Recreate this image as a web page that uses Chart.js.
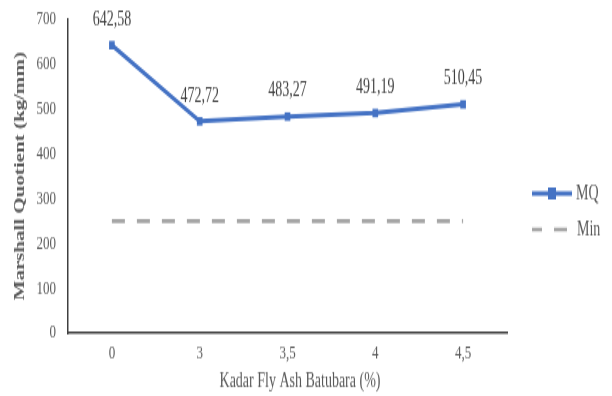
<!DOCTYPE html>
<html>
<head>
<meta charset="utf-8">
<script src="https://cdn.jsdelivr.net/npm/chart.js@4"></script>
<style>
  html, body { margin: 0; padding: 0; background: #fff; }
  #page { width: 612px; height: 396px; position: relative; }
  /* the reference picture is stretched vertically, so draw at 2/3 height and stretch */
  #wrap { position: absolute; left: 0; top: 0; width: 612px; height: 264px; transform: scaleY(1.5); transform-origin: 0 0; }
</style>
</head>
<body>
<div id="page"><div id="wrap"><canvas id="mqChart" width="612" height="264"></canvas></div></div>
<script>
const kadar = ["0", "3", "3,5", "4", "4,5"];
const mqValues = [642.58, 472.72, 483.27, 491.19, 510.45];
const minValues = [250, 250, 250, 250, 250];
const yTicks = [0, 100, 200, 300, 400, 500, 600, 700];

const serif = "'Liberation Serif', 'Times New Roman', serif";
const textGray = "#595959";

// value labels above the MQ points, comma decimals
const valueLabels = {
  id: "valueLabels",
  afterDatasetsDraw(chart) {
    const ctx = chart.ctx;
    const meta = chart.getDatasetMeta(0);
    ctx.save();
    ctx.font = "14px " + serif;
    ctx.fillStyle = "#404040";
    ctx.textAlign = "center";
    ctx.textBaseline = "middle";
    meta.data.forEach((pt, i) => {
      ctx.fillText(mqValues[i].toFixed(2).replace(".", ","), pt.x, pt.y - 17);
    });
    ctx.restore();
  }
};

// x axis title sits a little right of the plot centre in the original
const xTitle = {
  id: "xTitle",
  afterDraw(chart) {
    const ctx = chart.ctx;
    ctx.save();
    ctx.font = "14px " + serif;
    ctx.fillStyle = textGray;
    ctx.textAlign = "center";
    ctx.textBaseline = "middle";
    ctx.fillText("Kadar Fly Ash Batubara (%)", 300, 254);
    ctx.restore();
  }
};

// legend on the right, drawn by hand so the MQ line carries its marker
const sideLegend = {
  id: "sideLegend",
  afterDraw(chart) {
    const ctx = chart.ctx;
    const x0 = 532, x1 = 572;
    const yMQ = 129, yMin = 153;
    ctx.save();
    ctx.lineWidth = 3;
    ctx.strokeStyle = "#4472C4";
    ctx.beginPath(); ctx.moveTo(x0, yMQ); ctx.lineTo(x1, yMQ); ctx.stroke();
    ctx.fillStyle = "#4472C4";
    ctx.fillRect((x0 + x1) / 2 - 4, yMQ - 4, 8, 8);
    ctx.strokeStyle = "#A5A5A5";
    ctx.lineWidth = 2.7;
    ctx.setLineDash([13, 12]);
    ctx.lineDashOffset = 3;
    ctx.beginPath(); ctx.moveTo(x0, yMin); ctx.lineTo(x1 - 2, yMin); ctx.stroke();
    ctx.setLineDash([]);
    ctx.font = "14px " + serif;
    ctx.fillStyle = textGray;
    ctx.textBaseline = "middle";
    ctx.fillText("MQ", x1 + 4, yMQ);
    ctx.fillText("Min", x1 + 5, yMin);
    ctx.restore();
  }
};

new Chart(document.getElementById("mqChart").getContext("2d"), {
  type: "line",
  data: {
    labels: kadar,
    datasets: [
      {
        label: "MQ",
        data: mqValues,
        borderColor: "#4472C4",
        backgroundColor: "#4472C4",
        borderWidth: 3,
        pointStyle: "rect",
        pointRadius: 4,
        pointBorderWidth: 0,
        tension: 0
      },
      {
        label: "Min",
        data: minValues,
        borderColor: "#A5A5A5",
        borderWidth: 2.7,
        borderDash: [13, 12],
        pointRadius: 0,
        tension: 0
      }
    ]
  },
  options: {
    responsive: false,
    animation: false,
    layout: { autoPadding: false, padding: { left: 0, right: 105, top: 13, bottom: 0 } },
    plugins: { legend: { display: false }, tooltip: { enabled: false } },
    scales: {
      x: {
        offset: true,
        afterFit(scale) { scale.height = 42; },
        grid: { display: false, drawTicks: false },
        border: { display: true, color: "#404040", width: 1.5 },
        ticks: { color: textGray, font: { family: serif, size: 13 }, padding: 6, maxRotation: 0 },
        title: { display: false }
      },
      y: {
        min: 0,
        max: 700,
        afterBuildTicks(scale) { scale.ticks = yTicks.map(v => ({ value: v })); },
        afterFit(scale) { scale.width = 68; },
        // tick length (not drawn) gives the gap to the axis, so the label padding stays small
        grid: { display: false, drawTicks: true, tickLength: 9 },
        border: { display: true, color: "#404040", width: 1.5 },
        ticks: { color: textGray, font: { family: serif, size: 13 }, padding: 3 },
        title: {
          display: true,
          text: "Marshall Quotient (kg/mm)",
          color: textGray,
          font: { family: serif, size: 14, weight: "bold" },
          padding: { top: 12, bottom: 12 }
        }
      }
    }
  },
  plugins: [valueLabels, xTitle, sideLegend]
});
</script>
</body>
</html>
